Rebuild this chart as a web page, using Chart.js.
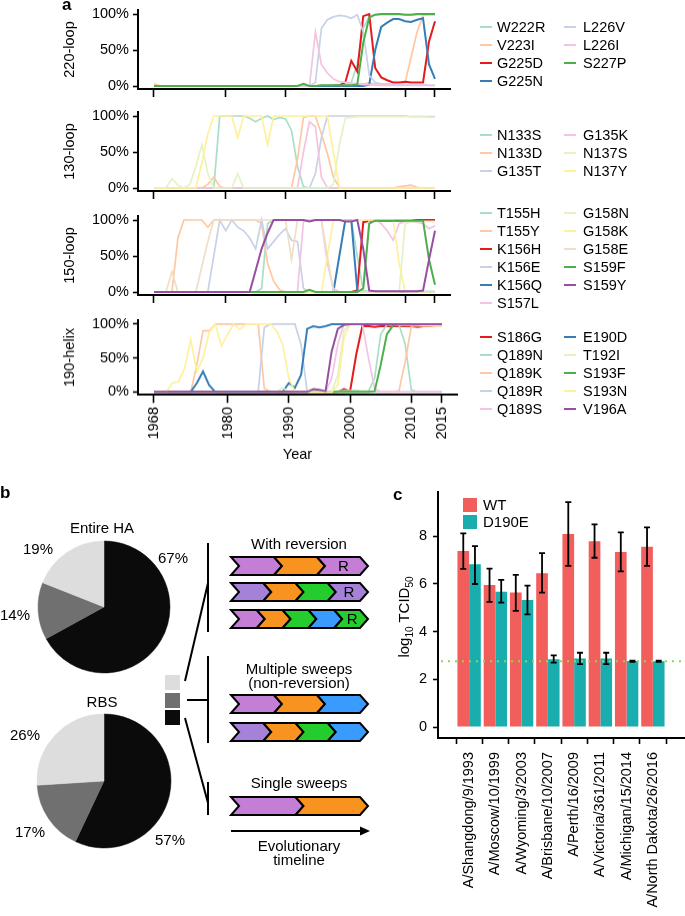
<!DOCTYPE html>
<html><head><meta charset="utf-8">
<script src="https://cdn.jsdelivr.net/npm/chart.js@4.4.1/dist/chart.umd.min.js"></script>
<style>
html,body{margin:0;padding:0;background:#fff}
body{position:relative;width:685px;height:916px;overflow:hidden;font-family:"Liberation Sans",Arial,Helvetica,sans-serif;color:#000}
canvas{position:absolute}
#ov{position:absolute;left:0;top:0;z-index:2}
</style></head><body>
<svg id="ov" width="685" height="916" xmlns="http://www.w3.org/2000/svg"></svg>
<script>
// ---------------- DATA ----------------
const years = Array.from({length:48},(_,i)=>1968+i);
const xTickYears = [1968,1980,1990,2000,2010,2015];
const pctTicks = [0,50,100];

// 220-loop
const W222R=[0,0, 0,0,0,0,0,0,0,0,0,0, 0,0,0,0,0,0,0,0,0,0, 0,0,0,0,0,0,0,0,0,0, 1,5,30,80,97,99,99,99,99,99, 99,99,99,99,99,99];
const V223I=[3,0, 0,0,0,0,0,0,0,0,0,0, 0,0,0,0,0,0,0,0,0,0, 0,0,0,0,0,0,1,1,2,2, 2,3,3,3,4,3,2,2,2,2, 5,40,75,98,99,99];
const G225D=[0,0, 0,0,0,0,0,0,0,0,0,0, 0,0,0,0,0,0,0,0,0,0, 0,0,0,0,0,0,0,0,0,1, 5,35,20,97,100,25,12,8,5,5, 6,5,5,5,62,90];
const G225N=[0,0, 0,0,0,0,0,0,0,0,0,0, 0,0,0,0,0,0,0,0,0,0, 0,0,0,0,0,0,0,0,0,0, 0,0,0,0,2,50,82,88,93,93, 90,89,92,94,30,10];
const L226V=[0,0, 0,0,0,0,0,0,0,0,0,0, 0,0,0,0,0,0,0,0,0,0, 0,0,0,0,0,5,80,92,96,98, 97,94,99,75,15,5,3,3,2,2, 2,2,2,2,1,1];
const L226I=[0,0, 0,0,0,0,0,0,0,0,0,0, 0,0,0,0,0,0,0,0,0,0, 0,0,0,0,0,75,30,18,10,6, 5,4,3,2,2,1,1,1,1,1, 1,1,1,1,1,1];
const S227P=[0,0, 0,0,0,0,0,0,0,0,0,0, 0,0,0,0,0,0,0,0,0,0, 0,0,0,3,0,0,1,1,1,1, 1,1,2,60,95,99,100,100,100,100, 99,99,100,100,100,100];
// 130-loop
const N133S=[0,0, 0,0,0,0,0,0,0,0,0,100, 100,100,100,100,97,92,97,100,95,98, 96,80,30,2,0,0,0,0,0,0, 0,0,0,0,0,0,0,0,0,0, 0,0,0,0,0,0];
const N133D=[0,0, 0,0,0,0,0,0,0,5,15,2, 0,0,0,0,0,0,0,0,0,0, 0,0,40,98,100,100,75,48,15,1, 0,0,0,0,0,0,0,0,0,2, 3,4,1,0,0,0];
const G135T=[0,0, 0,0,0,0,0,0,0,0,0,0, 0,0,0,0,0,0,0,0,0,0, 0,0,0,0,0,20,70,100,100,100, 100,100,100,100,100,100,100,100,100,100, 100,99,99,99,99,99];
const G135K=[0,0, 0,0,0,0,0,0,0,0,0,0, 0,0,0,0,0,0,0,0,0,0, 0,0,0,50,92,85,15,0,0,0, 0,0,0,0,0,0,0,0,0,0, 0,0,0,0,0,0];
const N137S=[0,0, 0,13,4,0,5,30,60,20,0,0, 0,0,20,0,0,0,0,0,0,0, 0,0,0,0,0,0,0,0,5,60, 97,98,99,99,99,99,99,99,99,99, 99,99,99,99,98,98];
const N137Y=[0,0, 0,0,0,0,0,0,35,75,100,100, 100,100,70,100,100,100,100,60,100,100, 100,100,100,100,100,100,100,100,50,0, 0,0,0,0,0,0,0,0,0,0, 0,0,0,0,0,0];
// 150-loop
const T155H=[0,0, 0,0,0,0,0,0,0,0,0,0, 0,0,0,0,0,0,5,95,100,100, 100,100,100,100,100,100,100,100,100,100, 100,100,50,2,1,1,1,1,1,1, 1,1,1,1,1,1];
const T155Y=[0,0, 0,0,75,100,100,100,100,90,100,100, 100,100,100,100,100,100,95,40,15,3, 0,0,0,0,0,0,0,0,0,0, 0,0,0,0,0,0,0,0,0,0, 0,0,0,0,0,0];
const K156H=[0,0, 0,0,0,0,0,0,0,0,0,0, 0,0,0,0,0,0,0,0,0,0, 0,0,0,0,0,0,0,0,0,0, 0,0,2,97,99,99,99,99,99,99, 99,99,100,100,100,100];
const K156E=[0,0, 0,0,0,0,0,0,0,0,50,100, 85,100,90,85,75,60,100,60,70,80, 88,72,70,5,0,0,0,0,0,0, 0,0,0,0,0,0,0,0,0,0, 0,0,0,0,0,0];
const K156Q=[0,0, 0,0,0,0,0,0,0,0,0,0, 0,0,0,0,0,0,0,0,0,0, 0,0,0,0,0,0,0,0,0,50, 100,100,2,0,0,0,0,0,0,0, 0,0,0,0,0,0];
const S157L=[0,0, 0,0,0,0,0,0,0,0,0,0, 0,0,0,0,0,0,0,0,0,0, 0,0,0,98,100,100,100,40,5,0, 0,0,0,5,100,100,95,85,72,95, 98,97,97,95,88,92];
const G158N=[0,0, 0,0,0,0,0,0,0,0,0,0, 0,0,0,0,0,0,0,0,0,0, 0,0,0,0,0,0,0,0,0,0, 0,0,0,0,0,0,0,0,0,0, 95,97,98,98,98,98];
const G158K=[0,0, 0,0,0,0,0,0,0,0,0,0, 0,0,0,0,0,0,0,0,0,0, 0,0,0,0,0,0,0,50,100,100, 100,100,100,100,100,100,100,100,100,40, 0,0,0,0,0,0];
const G158E=[0,0, 0,28,0,0,0,0,35,70,100,100, 100,100,100,100,100,100,100,100,100,100, 100,45,100,100,100,100,100,50,0,0, 0,0,0,0,0,0,0,0,0,0, 0,0,0,0,0,0];
const S159F=[0,0, 0,0,0,0,0,0,0,0,0,0, 0,0,0,0,0,0,0,0,0,0, 0,0,0,0,3,0,0,0,0,0, 0,0,0,5,95,99,99,99,99,99, 99,99,99,99,45,10];
const S159Y=[0,0, 0,0,0,0,0,0,0,0,0,0, 0,0,0,0,0,30,60,82,100,100, 100,100,100,100,98,100,100,100,100,100, 98,98,100,60,2,1,1,1,1,1, 1,1,1,2,45,85];
// 190-helix
const S186G=[0,0, 0,0,0,0,0,0,0,0,0,0, 0,0,0,0,0,0,0,0,0,0, 0,0,0,0,0,0,0,0,0,4, 1,55,97,97,96,97,97,97,97,97, 97,96,97,97,98,98];
const Q189N=[0,0, 0,0,0,0,0,0,0,0,0,0, 0,0,0,0,0,0,0,0,0,0, 0,0,0,0,0,0,0,0,1,2, 2,2,1,1,20,85,99,99,99,70, 3,0,0,0,0,0];
const Q189K=[0,0, 0,0,0,0,0,40,90,90,100,100, 100,100,100,100,100,100,5,0,0,0, 0,0,0,0,0,0,0,0,0,0, 0,0,0,0,0,0,0,0,2,45, 97,98,98,98,98,98];
const Q189R=[0,0, 0,0,0,0,0,0,0,0,0,0, 0,0,0,0,0,0,95,100,100,100, 100,100,70,0,0,0,0,0,0,0, 0,0,0,0,0,0,0,0,0,0, 0,0,0,0,0,0];
const Q189S=[0,0, 0,0,0,0,0,0,0,0,0,0, 0,0,0,0,0,0,0,0,0,0, 0,0,0,0,0,0,0,20,70,100, 100,100,100,50,5,0,0,0,0,0, 0,0,0,0,0,0];
const E190D=[0,0, 0,0,0,0,0,13,30,10,0,0, 0,0,0,0,0,0,0,0,0,0, 13,6,25,93,97,95,97,100,100,100, 100,100,100,100,100,100,100,100,100,100, 100,100,100,100,100,100];
const T192I=[0,0, 0,0,0,0,0,0,0,0,0,0, 0,0,0,0,0,0,0,0,0,6, 0,0,0,0,0,0,0,0,25,90, 100,100,100,100,100,100,100,99,99,99, 99,98,98,98,98,98];
const S193F=[0,0, 0,0,0,0,0,0,0,0,0,0, 0,0,0,0,0,0,0,0,0,0, 0,0,0,0,0,0,0,0,0,0, 0,0,0,0,1,40,85,98,99,99, 99,99,99,99,99,99];
const S193N=[0,0, 0,13,15,35,77,30,50,88,100,68, 85,100,92,100,100,100,100,100,90,70, 20,0,0,0,0,0,0,0,10,80, 100,100,100,100,100,100,100,100,99,99, 99,99,98,98,98,98];
const V196A=[0,0, 0,0,0,0,0,0,0,0,0,0, 0,0,0,0,0,0,0,0,0,0, 0,0,0,0,4,3,1,60,93,99, 100,100,100,100,100,100,100,100,100,100, 100,100,100,100,100,100];

// panel b
const sweepLabels = ['Single sweeps','Multiple sweeps','With reversion'];
const entireHA = [67,14,19];
const RBS = [57,17,26];

// panel c
const strains = ['A/Shangdong/9/1993','A/Moscow/10/1999','A/Wyoming/3/2003','A/Brisbane/10/2007','A/Perth/16/2009','A/Victoria/361/2011','A/Michigan/15/2014','A/North Dakota/26/2016'];
const WT     = [7.37,5.95,5.63,6.44,8.08,7.78,7.33,7.55];
const WT_hi  = [8.11,6.63,6.37,7.28,9.42,8.49,8.15,8.36];
const WT_lo  = [6.62,5.24,4.86,5.63,6.75,7.09,6.52,6.75];
const D190E  = [6.82,5.67,5.32,2.84,2.87,2.87,2.76,2.75];
const D_hi   = [7.58,6.16,5.92,3.00,3.11,3.11,2.78,2.78];
const D_lo   = [5.99,5.21,4.72,2.70,2.63,2.63,2.73,2.73];
const detectionLimit = 2.75;
const cTicks = [0,2,4,6,8];

// ---------------- STYLE ----------------
const FONT = '"Liberation Sans", Arial, Helvetica, sans-serif';
const FS = 14.5;
Chart.defaults.font.family = FONT;
Chart.defaults.font.size = FS;
Chart.defaults.color = '#000';
const COL = {mint:'#A9DEC7', orange:'#FDC8A2', bluegray:'#C7D1E8', pink:'#F3C4E1', lgreen:'#E3F3C4', yellow:'#FFF09C', beige:'#F0DEC6',
             red:'#E41A1C', blue:'#377EB8', green:'#4DAF4A', purple:'#984EA3'};
const STRONG = new Set(['red','blue','green','purple']);

const NS='http://www.w3.org/2000/svg';
const ov=document.getElementById('ov');
function sv(tag, attrs, text){const e=document.createElementNS(NS,tag); for(const k in attrs) e.setAttribute(k, attrs[k]); if(text!=null) e.textContent=text; ov.appendChild(e); return e;}
function txt(str,x,cy,o={}){const fs=o.fs||FS; return sv('text',{x:x, y:cy+0.358*fs, 'font-size':fs, 'font-family':FONT, 'text-anchor':o.anchor||'start', 'font-weight':o.bold?'bold':'normal', fill:'#000'}, str);}
function mkCanvas(x,y,w,h){const c=document.createElement('canvas'); c.width=w; c.height=h; c.style.left=x+'px'; c.style.top=y+'px'; c.style.width=w+'px'; c.style.height=h+'px'; document.body.appendChild(c); return c;}

// ---------------- PANEL A ----------------
const panelsA = [
 {title:'220-loop', T:10, B:89, y100:14, y0:86, R:450, x2015:435, labels:false, legendY:27, col1:4,
  series:[['W222R',W222R,'mint'],['V223I',V223I,'orange'],['G225D',G225D,'red'],['G225N',G225N,'blue'],['L226V',L226V,'bluegray'],['L226I',L226I,'pink'],['S227P',S227P,'green']]},
 {title:'130-loop', T:112, B:191, y100:116, y0:188, R:450, x2015:435, labels:false, legendY:135, col1:3,
  series:[['N133S',N133S,'mint'],['N133D',N133D,'orange'],['G135T',G135T,'bluegray'],['G135K',G135K,'pink'],['N137S',N137S,'lgreen'],['N137Y',N137Y,'yellow']]},
 {title:'150-loop', T:216, B:295, y100:220, y0:292, R:450, x2015:435, labels:false, legendY:213, col1:6,
  series:[['T155H',T155H,'mint'],['T155Y',T155Y,'orange'],['K156H',K156H,'red'],['K156E',K156E,'bluegray'],['K156Q',K156Q,'blue'],['S157L',S157L,'pink'],['G158N',G158N,'lgreen'],['G158K',G158K,'yellow'],['G158E',G158E,'beige'],['S159F',S159F,'green'],['S159Y',S159Y,'purple']]},
 {title:'190-helix', T:320, B:395, y100:324, y0:392, R:457, x2015:442, labels:true, legendY:337, col1:5,
  series:[['S186G',S186G,'red'],['Q189N',Q189N,'mint'],['Q189K',Q189K,'orange'],['Q189R',Q189R,'bluegray'],['Q189S',Q189S,'pink'],['E190D',E190D,'blue'],['T192I',T192I,'lgreen'],['S193F',S193F,'green'],['S193N',S193N,'yellow'],['V196A',V196A,'purple']]}
];
const AX_L = 138, X1968 = 154;

panelsA.forEach(p=>{
  const cy = p.T - 20, pt = 20, cw = 470;
  const xh = p.labels ? 72.7 : 9, pb = p.labels ? 8 : 10;
  const ch = pt + (p.B - p.T) + xh + pb;
  const cv = mkCanvas(0, cy, cw, ch);
  const pl = 57, yw = AX_L - pl, pr = cw - p.R;
  const pxYr = (p.x2015 - X1968)/47;
  const xmin = 1968 - (X1968 - AX_L)/pxYr, xmax = 1968 + (p.R - X1968)/pxYr;
  const pxPct = (p.y0 - p.y100)/100;
  const ymin = -(p.B - p.y0)/pxPct, ymax = 100 + (p.y100 - p.T)/pxPct;
  const ds = p.series.slice().reverse().map(s=>({
    label:s[0], data: years.map((yr,i)=>({x:yr, y:s[1][i]})),
    borderColor: COL[s[2]], borderWidth: STRONG.has(s[2]) ? 2 : 1.7,
    pointRadius:0, tension:0, fill:false
  }));
  new Chart(cv, {type:'line', data:{datasets:ds}, options:{
    responsive:false, animation:false, devicePixelRatio:1, events:[],
    layout:{padding:{left:pl, top:pt, right:pr, bottom:pb}},
    plugins:{legend:{display:false}, tooltip:{enabled:false}},
    scales:{
      x:{type:'linear', min:xmin, max:xmax,
         afterFit:s=>{s.height=xh;},
         afterBuildTicks:s=>{s.ticks=xTickYears.map(v=>({value:v}));},
         ticks:{display:p.labels, callback:v=>String(v), minRotation:90, maxRotation:90, autoSkip:false, padding:4, font:{size:FS}},
         grid:{drawOnChartArea:false, tickLength:8, tickColor:'#000', tickWidth:1.6},
         border:{color:'#000', width:2},
         title:{display:p.labels, text:'Year', font:{size:FS}, padding:4}},
      y:{type:'linear', min:ymin, max:ymax,
         afterFit:s=>{s.width=yw;},
         afterBuildTicks:s=>{s.ticks=pctTicks.map(v=>({value:v}));},
         ticks:{callback:v=>v+'%', padding:4, font:{size:FS}},
         grid:{drawOnChartArea:false, tickLength:5, tickColor:'#000', tickWidth:1.6},
         border:{color:'#000', width:2},
         title:{display:true, text:p.title, font:{size:FS}, padding:4}}
    }}});
  // legend
  p.series.forEach((s,i)=>{
    const col = i < p.col1 ? 0 : 1, row = col ? i - p.col1 : i;
    const lx = col ? 564 : 480, tx = col ? 583 : 497;
    const y = p.legendY + row*18;
    sv('line',{x1:lx, y1:y, x2:lx+12, y2:y, stroke:COL[s[2]], 'stroke-width':2});
    txt(s[0], tx, y);
  });
});
txt('a', 62, 4, {bold:true, fs:17});

// ---------------- PANEL B ----------------
txt('b', 0, 492, {bold:true, fs:17});
const pieCols = ['#0B0B0B','#707070','#DDDDDD'];
function pie(data, cx, cy, r){
  const s = 2*r + 6;
  const cv = mkCanvas(cx - s/2, cy - s/2, s, s);
  new Chart(cv, {type:'pie', data:{labels:sweepLabels, datasets:[{data:data, backgroundColor:pieCols, borderColor:pieCols, borderWidth:0.5}]},
    options:{responsive:false, animation:false, devicePixelRatio:1, events:[], radius:r, layout:{padding:0},
      plugins:{legend:{display:false}, tooltip:{enabled:false}}}});
}
pie(entireHA, 104, 607, 66);
pie(RBS, 104, 781, 67);
txt('Entire HA', 102, 528, {anchor:'middle', fs:15});
txt('RBS', 102, 702, {anchor:'middle', fs:15});
txt(entireHA[2]+'%', 38, 549, {anchor:'middle', fs:15});
txt(entireHA[0]+'%', 173, 558, {anchor:'middle', fs:15});
txt(entireHA[1]+'%', 15, 615, {anchor:'middle', fs:15});
txt(RBS[2]+'%', 25, 735, {anchor:'middle', fs:15});
txt(RBS[1]+'%', 30, 832, {anchor:'middle', fs:15});
txt(RBS[0]+'%', 170, 840, {anchor:'middle', fs:15});

// key squares
sv('rect',{x:165,y:675,width:15,height:15,fill:pieCols[2]});
sv('rect',{x:165,y:693,width:15,height:15,fill:pieCols[1]});
sv('rect',{x:165,y:710,width:15,height:15,fill:pieCols[0]});
const blk = {stroke:'#000','stroke-width':2};
sv('line',Object.assign({x1:185,y1:681,x2:208,y2:583},blk));
sv('line',Object.assign({x1:187,y1:700,x2:207,y2:700},blk));
sv('line',Object.assign({x1:185,y1:718,x2:208,y2:803},blk));
sv('line',Object.assign({x1:208,y1:543,x2:208,y2:632},blk));
sv('line',Object.assign({x1:208,y1:656,x2:208,y2:743},blk));
sv('line',Object.assign({x1:208,y1:782,x2:208,y2:815},blk));

const CH = {p1:'#C47ED6', p2:'#A681D8', or:'#F7931E', gr:'#25CC2E', bl:'#3A9BFF'};
const chevRows = [
 {y:557, segs:['p1','or','p1'], r:2},
 {y:583, segs:['p2','or','gr','p2'], r:3},
 {y:610, segs:['p1','or','gr','bl','gr'], r:4},
 {y:695, segs:['p1','or','bl']},
 {y:723, segs:['p2','or','gr','bl']},
 {y:797, segs:['p1','or']}
];
const CX0 = 231, CX1 = 360, CD = 8, CHH = 18;
chevRows.forEach(row=>{
  const n=row.segs.length, w=(CX1-CX0)/n;
  row.segs.forEach((c,k)=>{
    const sx=CX0+k*w, ex=sx+w, t=row.y, b=row.y+CHH, m=row.y+CHH/2;
    sv('polygon',{points:`${sx},${t} ${ex},${t} ${ex+CD},${m} ${ex},${b} ${sx},${b} ${sx+CD},${m}`, fill:CH[c], stroke:'#000','stroke-width':2,'stroke-linejoin':'miter'});
    if(row.r===k) txt('R', sx+w/2+CD/2+1, m, {anchor:'middle', fs:15});
  });
});
txt('With reversion', 299, 544, {anchor:'middle', fs:15});
txt('Multiple sweeps', 299, 669, {anchor:'middle', fs:15});
txt('(non-reversion)', 299, 683, {anchor:'middle', fs:15});
txt('Single sweeps', 299, 783, {anchor:'middle', fs:15});
sv('line',{x1:231,y1:831,x2:362,y2:831,stroke:'#000','stroke-width':2});
sv('polygon',{points:'370,831 360,826.5 360,835.5', fill:'#000'});
txt('Evolutionary', 299, 846, {anchor:'middle', fs:15});
txt('timeline', 299, 860, {anchor:'middle', fs:15});

// ---------------- PANEL C ----------------
txt('c', 393, 494, {bold:true, fs:17});
const cL=438, cT=492, cR=684, cB=738, ccx=370, ccy=470, ccw=324, cch=446;
const cv3 = mkCanvas(ccx, ccy, ccw, cch);
const yPx = (727-536)/8;
const cymin = -(cB-727)/yPx, cymax = (727-cT)/yPx;
const errPlugin = {id:'err', afterDatasetsDraw(chart){
  const ctx=chart.ctx, ys=chart.scales.y, a=chart.chartArea;
  ctx.save();
  ctx.strokeStyle='#86DA5E'; ctx.lineWidth=2; ctx.setLineDash([2,5]);
  const yy=ys.getPixelForValue(detectionLimit);
  ctx.beginPath(); ctx.moveTo(a.left+3,yy); ctx.lineTo(a.right,yy); ctx.stroke();
  ctx.setLineDash([]); ctx.strokeStyle='#000'; ctx.lineWidth=1.8;
  [[WT_lo,WT_hi],[D_lo,D_hi]].forEach((pr,di)=>{
    chart.getDatasetMeta(di).data.forEach((bar,i)=>{
      const x=bar.x, y0=ys.getPixelForValue(pr[0][i]), y1=ys.getPixelForValue(pr[1][i]);
      ctx.beginPath(); ctx.moveTo(x,y0); ctx.lineTo(x,y1);
      ctx.moveTo(x-3,y1); ctx.lineTo(x+3,y1); ctx.moveTo(x-3,y0); ctx.lineTo(x+3,y0); ctx.stroke();
    });
  });
  ctx.restore();
}};
new Chart(cv3, {type:'bar', data:{datasets:[
   {label:'WT', data:strains.map((s,i)=>({x:i+1,y:WT[i]})), backgroundColor:'#F15E5C'},
   {label:'D190E', data:strains.map((s,i)=>({x:i+1,y:D190E[i]})), backgroundColor:'#19ADAE'}]},
  options:{responsive:false, animation:false, devicePixelRatio:1, events:[],
    layout:{padding:{left:0, top:cT-ccy, right:ccw-(cR-ccx), bottom:8}},
    datasets:{bar:{barPercentage:1, categoryPercentage:0.89}},
    plugins:{legend:{display:false}, tooltip:{enabled:false}},
    scales:{
      x:{type:'linear', min:0.4, max:8.6, afterFit:s=>{s.height=cch-8-(cB-ccy);},
         afterBuildTicks:s=>{s.ticks=strains.map((_,i)=>({value:i+1}));},
         ticks:{callback:v=>strains[v-1], minRotation:90, maxRotation:90, autoSkip:false, padding:8, font:{size:FS}},
         grid:{drawOnChartArea:false, tickLength:6, tickColor:'#000', tickWidth:1.6},
         border:{color:'#000', width:2}},
      y:{type:'linear', min:cymin, max:cymax, afterFit:s=>{s.width=cL-ccx;},
         afterBuildTicks:s=>{s.ticks=cTicks.map(v=>({value:v}));},
         ticks:{callback:v=>String(v), padding:6, font:{size:FS}},
         grid:{drawOnChartArea:false, tickLength:5, tickColor:'#000', tickWidth:1.6},
         border:{color:'#000', width:2}}
    }}, plugins:[errPlugin]});
// legend c
sv('rect',{x:463,y:498,width:14,height:14,fill:'#F15E5C'});
sv('rect',{x:463,y:515,width:14,height:14,fill:'#19ADAE'});
txt('WT', 483, 505, {fs:15});
txt('D190E', 483, 522, {fs:15});
// y title
const yt = sv('text',{x:0,y:0,'font-size':15,'font-family':FONT,fill:'#000','text-anchor':'middle',transform:'translate(409,617) rotate(-90)'});
yt.innerHTML = 'log<tspan dy="4" font-size="10">10</tspan><tspan dy="-4"> TCID</tspan><tspan dy="4" font-size="10">50</tspan>';
</script></body></html>
